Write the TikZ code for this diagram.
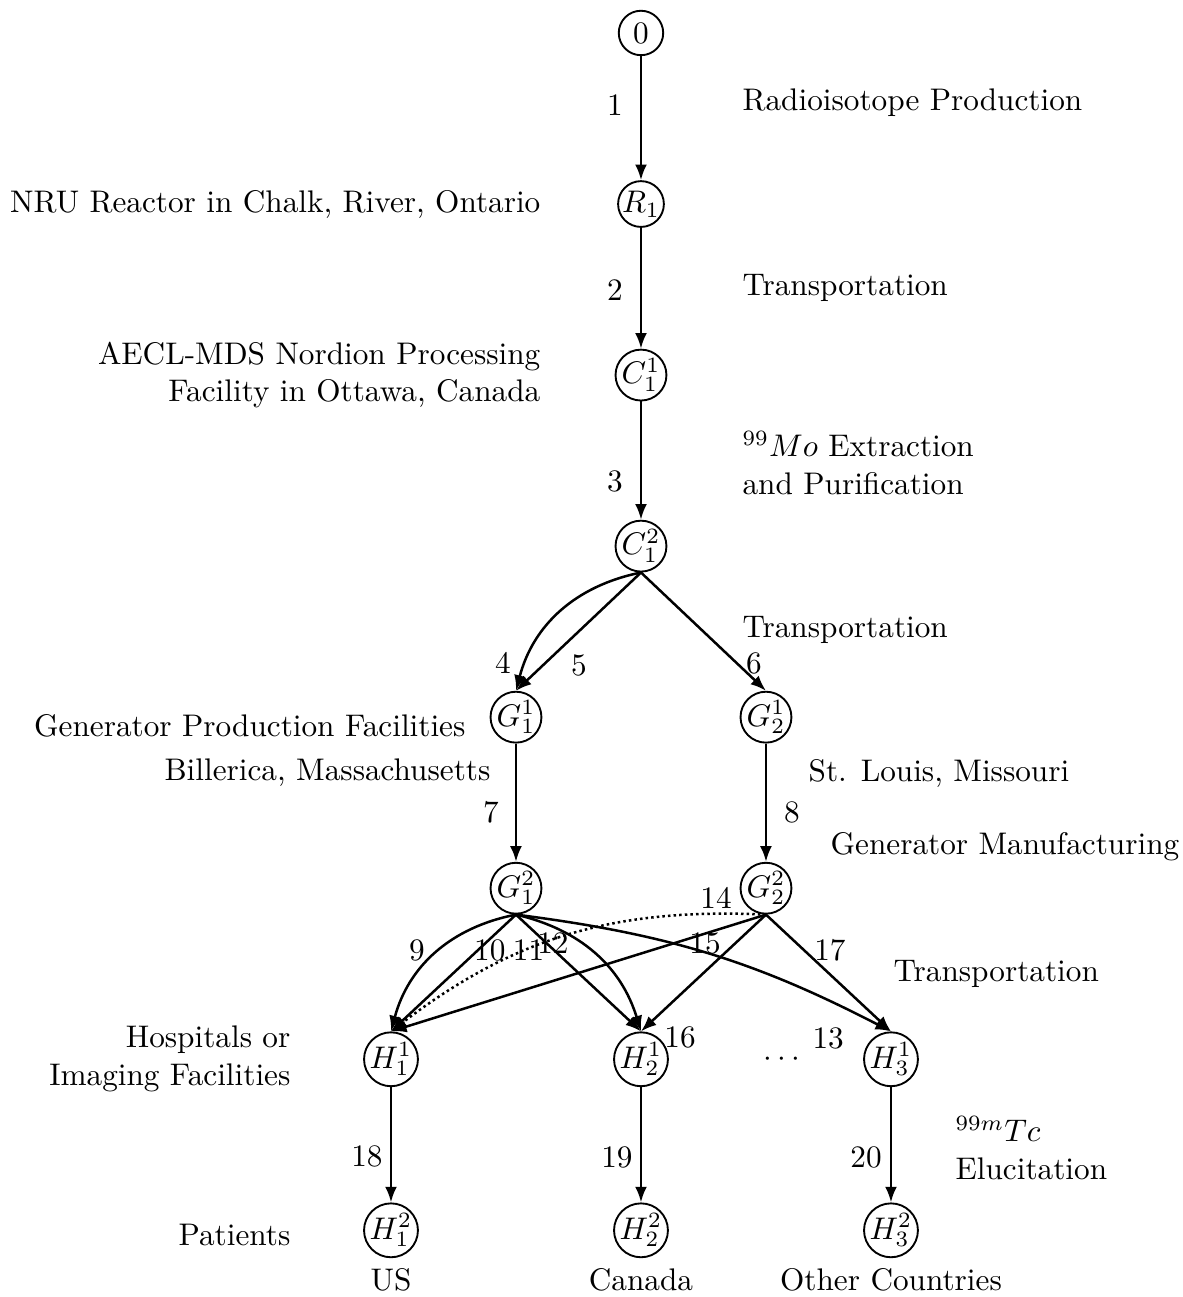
\documentclass[tikz,border=0pt]{standalone}
\usepackage{tikz}
\usetikzlibrary{arrows.meta}

\begin{document}
\begin{tikzpicture}[
  state/.style={draw, circle, semithick, minimum size=5mm, inner sep=0pt},
  flow/.style={thick, -{Latex[length=5pt, width=3.8pt]}},
  noteleft/.style={anchor=east, inner sep=0pt, align=right},
  noteright/.style={anchor=west, inner sep=0pt, align=left},
]

\def\width{13.296}
\def\height{14.589}
\def\ox{7.21}
\def\oy{14.218}
\def\sx{1.406}
\def\sy{1.924}

\path [use as bounding box] (0,0) rectangle (\width,\height);

% STATES
\path (\ox,\oy)
	+(0,0) node[state] (n0) {$0$}
	+(0,-\sy) node[state] (r1) {$R_1$}
	+(0,-2*\sy) node[state] (c11) {$C_1^1$}
	+(0,-3*\sy) node[state] (c12) {$C_1^2$}
	+(-\sx,-4*\sy) node[state] (g11) {$G_1^1$}
	+(\sx,-4*\sy) node[state] (g21) {$G_2^1$}
	+(-\sx,-5*\sy) node[state] (g12) {$G_1^2$}
	+(\sx,-5*\sy) node[state] (g22) {$G_2^2$}
	+(-2*\sx,-6*\sy) node[state] (h11) {$H_1^1$}
	+(0,-6*\sy) node[state] (h21) {$H_2^1$}
	+(2*\sx,-6*\sy) node[state] (h31) {$H_3^1$}
	+(-2*\sx,-7*\sy) node[state] (h12) {$H_1^2$}
	+(0,-7*\sy) node[state] (h22) {$H_2^2$}
	+(2*\sx,-7*\sy) node[state] (h32) {$H_3^2$};

% LINKS
\draw [flow] (n0) -- (r1);
\draw [flow] (r1) -- (c11);
\draw [flow] (c11) -- (c12);
\draw [flow] (c12.south) to[bend right=32] (g11.north);
\draw [flow] (c12.south) -- (g11.north);
\draw [flow] (c12.south) -- (g21.north);
\draw [flow] (g11) -- (g12);
\draw [flow] (g21) -- (g22);
\draw [flow] (g12.south) to[bend right=32] (h11.north);
\draw [flow] (g12.south) -- (h11.north);
\draw [flow] (g12.south) -- (h21.north);
\draw [flow] (g12.south) to[bend left=30] (h21.north);
\draw [flow] (g12.south) to[bend left=10] (h31.north);
\draw [flow, densely dotted] (g22.south) to[bend right=20] (h11.north);
\draw [flow] (g22.south) -- (h11.north);
\draw [flow] (g22.south) -- (h21.north);
\draw [flow] (g22.south) -- (h31.north);
\draw [flow] (h11) -- (h12);
\draw [flow] (h21) -- (h22);
\draw [flow] (h31) -- (h32);

% LINK NUMBERS
\path (\ox,\oy)
	+(-0.292,-0.810) node {1}
	+(-0.292,-2.891) node {2}
	+(-0.292,-5.039) node {3}
	+(-1.552,-7.087) node {4}
	+(-0.697,-7.109) node {5}
	+(1.271,-7.087) node {6}
	+(-1.687,-8.763) node {7}
	+(1.699,-8.763) node {8}
	+(-2.52,-10.32) node {9}
	+(-1.70,-10.32) node {10}
	+(-1.265,-10.32) node {11}
	+(-0.99,-10.236) node {12}
	+(2.105,-11.305) node {13}
	+(0.844,-9.73) node {14}
	+(0.721,-10.236) node {15}
	+(0.439,-11.294) node {16}
	+(2.126,-10.32) node {17}
	+(-3.082,-12.632) node {18}
	+(-0.270,-12.643) node {19}
	+(2.531,-12.643) node {20}
	+(1.586,-11.552) node {$\cdots$};

% STAGES
\path (\ox,\oy)
	+(1.136,-0.787) node[noteright] {Radioisotope Production}
	+(1.136,-2.868) node[noteright] {Transportation}
	+(1.136,-4.837) node[noteright] {$^{99}Mo$ Extraction\\and Purification}
	+(1.136,-6.715) node[noteright] {Transportation}
	+(1.879,-8.324) node[noteright] {St. Louis, Missouri}
	+(2.126,-9.156) node[noteright] {Generator Manufacturing}
	+(2.835,-10.585) node[noteright] {Transportation}
	+(3.532,-12.542) node[noteright] {$^{99m}Tc$\\Elucitation};

% PLACES
\path (\ox,\oy)
	+(-1.125,-1.924) node[noteleft] {NRU Reactor in Chalk, River, Ontario}
	+(-1.125,-3.847) node[noteleft] {AECL-MDS Nordion Processing\\Facility in Ottawa, Canada}
	+(-1.968,-7.795) node[noteleft] {Generator Production Facilities}
	+(-1.687,-8.324) node[noteleft] {Billerica, Massachusetts}
	+(-3.937,-11.541) node[noteleft] {Hospitals or\\Imaging Facilities}
	+(-3.937,-13.521) node[noteleft] {Patients}
	+(-2*\sx,-14.027) node {US}
	+(0,-14.027) node {Canada}
	+(2*\sx,-14.027) node {Other Countries};

\end{tikzpicture}
\end{document}
